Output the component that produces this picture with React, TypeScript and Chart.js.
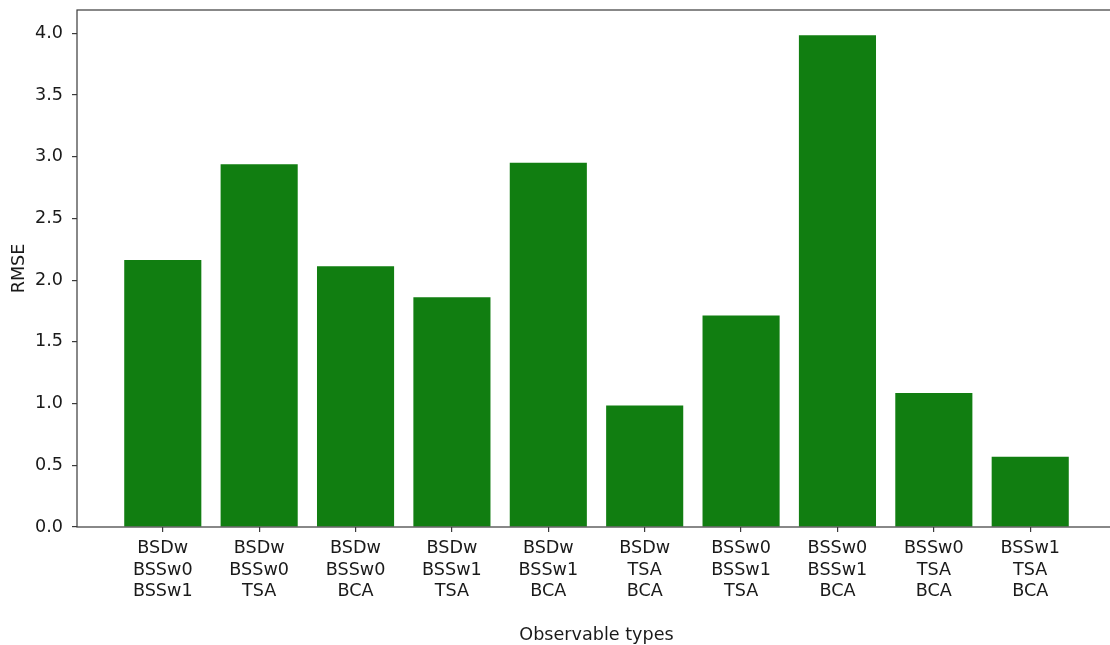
import React, { useEffect, useRef } from "react";
import { Chart, registerables } from "chart.js";

Chart.register(...registerables);

const categories: string[][] = [
  ["BSDw", "BSSw0", "BSSw1"],
  ["BSDw", "BSSw0", "TSA"],
  ["BSDw", "BSSw0", "BCA"],
  ["BSDw", "BSSw1", "TSA"],
  ["BSDw", "BSSw1", "BCA"],
  ["BSDw", "TSA", "BCA"],
  ["BSSw0", "BSSw1", "TSA"],
  ["BSSw0", "BSSw1", "BCA"],
  ["BSSw0", "TSA", "BCA"],
  ["BSSw1", "TSA", "BCA"],
];

const rmse: number[] = [2.162, 2.939, 2.113, 1.862, 2.95, 0.985, 1.714, 3.984, 1.085, 0.569];

const yTicks: number[] = [0, 0.5, 1.0, 1.5, 2.0, 2.5, 3.0, 3.5, 4.0];

const FONT = "'DejaVu Sans', sans-serif";
const FS = 17.6;
const TEXT = "#1a1a1a";
const SPINE = "#3a3a3a";

const framePlugin = {
  id: "frame",
  afterDraw(chart: any) {
    const { ctx, chartArea } = chart;
    ctx.save();
    ctx.strokeStyle = SPINE;
    ctx.lineWidth = 1.2;
    ctx.strokeRect(chartArea.left, chartArea.top, chartArea.right - chartArea.left, chartArea.bottom - chartArea.top);
    ctx.restore();
  },
};

export default function App() {
  const ref = useRef<HTMLCanvasElement | null>(null);

  useEffect(() => {
    if (!ref.current) return;
    const chart = new Chart(ref.current, {
      type: "bar",
      data: {
        datasets: [
          {
            label: "RMSE",
            data: rmse.map((v, i) => ({ x: i, y: v })),
            backgroundColor: "#117e11",
            borderWidth: 0,
            categoryPercentage: 1,
            barPercentage: 0.8,
          },
        ],
      },
      options: {
        animation: false,
        responsive: false,
        maintainAspectRatio: false,
        layout: { padding: { left: 0, top: 10, right: 4, bottom: 0 } },
        plugins: {
          legend: { display: false },
          tooltip: { enabled: false },
        },
        scales: {
          x: {
            type: "linear",
            offset: false,
            min: -0.89,
            max: 9.89,
            afterBuildTicks: (s: any) => {
              s.ticks = categories.map((_, i) => ({ value: i }));
            },
            afterFit: (s: any) => {
              s.height = 118;
              s.paddingLeft = 0;
              s.paddingRight = 0;
            },
            ticks: {
              autoSkip: false,
              maxRotation: 0,
              minRotation: 0,
              padding: 6,
              color: TEXT,
              font: { family: FONT, size: FS, lineHeight: 1.225 },
              callback: (v: any) => categories[Math.round(Number(v))] ?? "",
            },
            grid: {
              offset: false,
              drawOnChartArea: false,
              drawTicks: true,
              tickLength: 5,
              color: SPINE,
              lineWidth: 1.2,
            },
            border: { display: false },
            title: {
              display: true,
              text: "Observable types",
              color: TEXT,
              font: { family: FONT, size: FS, lineHeight: 1.12 },
              padding: { top: 0, bottom: 0 },
            },
          },
          y: {
            type: "linear",
            min: 0,
            max: 4.188,
            afterBuildTicks: (s: any) => {
              s.ticks = yTicks.map((v) => ({ value: v }));
            },
            afterFit: (s: any) => {
              s.width = 77;
              s.paddingTop = 0;
              s.paddingBottom = 0;
            },
            ticks: {
              padding: 9,
              color: TEXT,
              font: { family: FONT, size: FS },
              callback: (v: any) => Number(v).toFixed(1),
            },
            grid: {
              drawOnChartArea: false,
              drawTicks: true,
              tickLength: 5,
              color: SPINE,
              lineWidth: 1.2,
            },
            border: { display: false },
            title: {
              display: true,
              text: "RMSE",
              color: TEXT,
              font: { family: FONT, size: FS, lineHeight: 1.2 },
              padding: { top: 9, bottom: 0 },
            },
          },
        },
      },
      plugins: [framePlugin],
    });
    return () => chart.destroy();
  }, []);

  return (
    <div
      style={{
        position: "absolute",
        left: 0,
        top: 0,
        width: 1110,
        height: 645,
        overflow: "hidden",
        background: "#fff",
      }}
    >
      <canvas ref={ref} width={1120} height={645} style={{ display: "block" }} />
    </div>
  );
}
